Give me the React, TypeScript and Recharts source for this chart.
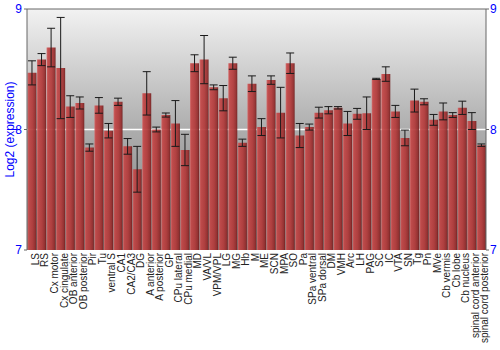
import React from 'react';
import { BarChart, Bar, XAxis, YAxis, CartesianGrid, ErrorBar, ReferenceLine } from 'recharts';

const regions = [
  'LS', 'RS', 'Cx motor', 'Cx cingulate', 'OB anterior', 'OB posterior', 'Pir', 'Tu', 'ventral S', 'CA1',
  'CA2/CA3', 'DG', 'A anterior', 'A posterior', 'GP', 'CPu lateral', 'CPu medial', 'MD', 'VA/VL', 'VPM/VPL',
  'LG', 'MG', 'Hb', 'M', 'ME', 'SCN', 'MPA', 'SO', 'Pa', 'SPa ventral',
  'SPa dorsal', 'DM', 'VMH', 'Arc', 'LH', 'PAG', 'SC', 'IC', 'VTA', 'SN',
  'Tg', 'Pn', 'MVe', 'Cb vermis', 'Cb lobe', 'Cb nucleus', 'spinal cord anterior', 'spinal cord posterior',
];

const expression = [
  8.47, 8.58, 8.68, 8.51, 8.19, 8.22, 7.85, 8.2, 7.99, 8.23,
  7.86, 7.67, 8.3, 8.0, 8.12, 8.05, 7.83, 8.55, 8.58, 8.35,
  8.26, 8.55, 7.89, 8.38, 8.02, 8.41, 8.14, 8.55, 7.95, 8.02,
  8.14, 8.16, 8.18, 8.05, 8.13, 8.135, 8.42, 8.46, 8.15, 7.93,
  8.24, 8.23, 8.08, 8.15, 8.12, 8.18, 8.07, 7.87,
];

const stdErr = [
  0.1, 0.05, 0.16, 0.42, 0.09, 0.05, 0.03, 0.065, 0.06, 0.03,
  0.065, 0.19, 0.18, 0.02, 0.017, 0.19, 0.13, 0.07, 0.2, 0.02,
  0.105, 0.05, 0.03, 0.065, 0.07, 0.035, 0.21, 0.085, 0.1, 0.025,
  0.045, 0.03, 0.01, 0.1, 0.045, 0.135, 0.005, 0.06, 0.05, 0.065,
  0.095, 0.025, 0.045, 0.07, 0.02, 0.055, 0.07, 0.01,
];

const yTicks = [7, 8, 9];
const gridValues = [8];

const data = regions.map((name, i) => ({ name, value: expression[i], err: stdErr[i] }));

const FONT = '"Liberation Sans", Arial, sans-serif';

export default function App() {
  return (
    <div style={{ position: 'absolute', left: 0, top: 0, width: 500, height: 350 }}>
      <BarChart
        width={500}
        height={350}
        data={data}
        margin={{ top: 9, right: 0, left: 0, bottom: 0 }}
        barCategoryGap="5%"
        style={{ fontFamily: FONT }}
      >
        <defs>
          <linearGradient id="bgGrad" x1="0" y1="0" x2="0" y2="1">
            <stop offset="0%" stopColor="#f2f2f2" />
            <stop offset="50%" stopColor="#adadad" />
            <stop offset="100%" stopColor="#7e7e7e" />
          </linearGradient>
          <linearGradient id="barGrad" x1="0" y1="0" x2="1" y2="0">
            <stop offset="0%" stopColor="#d46a6a" />
            <stop offset="15%" stopColor="#c24646" />
            <stop offset="55%" stopColor="#b23a3a" />
            <stop offset="85%" stopColor="#952c2c" />
            <stop offset="100%" stopColor="#6e1c1c" />
          </linearGradient>
        </defs>
        <CartesianGrid
          yAxisId="left"
          vertical={false}
          horizontalValues={gridValues}
          stroke="#ffffff"
          strokeWidth={1.5}
          fill="url(#bgGrad)"
          fillOpacity={1}
        />
        <XAxis
          dataKey="name"
          interval={0}
          height={100}
          tickLine={false}
          axisLine={false}
          tickSize={0}
          tickMargin={3}
          tick={{ angle: -90, textAnchor: 'end', verticalAnchor: 'middle', fontSize: 10, fill: '#222' }}
        />
        <YAxis
          yAxisId="left"
          width={27}
          domain={[7, 9]}
          ticks={yTicks}
          allowDataOverflow
          tickSize={3}
          tickMargin={2}
          stroke="#666"
          tick={{ fill: '#0000ff', fontSize: 12 }}
          label={{
            value: 'Log2 (expression)',
            angle: -90,
            position: 'insideLeft',
            offset: 10,
            fill: '#0000ff',
            fontSize: 12,
            style: { textAnchor: 'middle' },
          }}
        />
        <YAxis
          yAxisId="right"
          orientation="right"
          width={14}
          domain={[7, 9]}
          ticks={yTicks}
          allowDataOverflow
          tickSize={3}
          tickMargin={1}
          stroke="#666"
          tick={{ fill: '#0000ff', fontSize: 12, textAnchor: 'start' }}
        />
        <ReferenceLine yAxisId="left" y={9} stroke="#666" />
        <Bar
          yAxisId="left"
          dataKey="value"
          fill="url(#barGrad)"
          fillOpacity={0.93}
          isAnimationActive={false}
        >
          <ErrorBar dataKey="err" width={4} stroke="#1a1a1a" strokeWidth={1} direction="y" />
        </Bar>
      </BarChart>
    </div>
  );
}
